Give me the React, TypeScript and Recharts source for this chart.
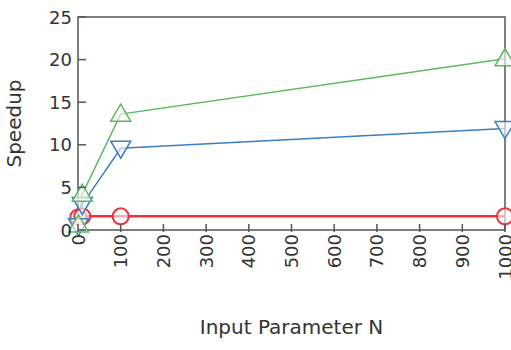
import { LineChart, Line, XAxis, YAxis, ReferenceArea } from "recharts"

const inputN = [1, 10, 100, 1000]
const speedupGreen = [0.6, 4.2, 13.6, 20.1]
const speedupBlue = [0.5, 3.0, 9.6, 11.9]
const speedupRed = [1.5, 1.6, 1.6, 1.6]
const xTicks = [0, 100, 200, 300, 400, 500, 600, 700, 800, 900, 1000]
const yTicks = [0, 5, 10, 15, 20, 25]

const data = inputN.map((n, i) => ({
    n,
    green: speedupGreen[i],
    blue: speedupBlue[i],
    red: speedupRed[i],
}))

const FONT = "'DejaVu Sans', sans-serif"
const AXIS = "#555"
const GREEN = "#5cb85c"
const BLUE = "#3a7fc0"
const RED = "#e8333a"

function TriUp(props: any) {
    const { cx, cy } = props
    if (cx == null || cy == null) return null
    const s = 10
    return <polygon points={`${cx},${cy - s} ${cx - s},${cy + s * 0.7} ${cx + s},${cy + s * 0.7}`} fill="#fff" fillOpacity={0.6} stroke={GREEN} strokeWidth={1.5} />
}

function TriDown(props: any) {
    const { cx, cy } = props
    if (cx == null || cy == null) return null
    const s = 10
    return <polygon points={`${cx},${cy + s} ${cx - s},${cy - s * 0.7} ${cx + s},${cy - s * 0.7}`} fill="#fff" fillOpacity={0.6} stroke={BLUE} strokeWidth={1.5} />
}

function Circ(props: any) {
    const { cx, cy } = props
    if (cx == null || cy == null) return null
    return <circle cx={cx} cy={cy} r={8} fill="#fff" fillOpacity={0.6} stroke={RED} strokeWidth={2} />
}

function BottomTick(props: any) {
    const { x, y, payload } = props
    return (
        <g>
            <line x1={x} y1={y - 2} x2={x} y2={y - 10} stroke={AXIS} strokeWidth={1.5} />
            <text x={x} y={y} transform={`rotate(-90 ${x} ${y})`} textAnchor="end" dominantBaseline="central" fontSize={18} fontFamily={FONT} fill="#333">
                {payload.value}
            </text>
        </g>
    )
}

function LeftTick(props: any) {
    const { x, y, payload } = props
    return (
        <g>
            <line x1={x + 6} x2={x + 14} y1={y} y2={y} stroke={AXIS} strokeWidth={1.5} />
            <text x={x} y={y} textAnchor="end" dominantBaseline="central" fontSize={18} fontFamily={FONT} fill="#333">
                {payload.value}
            </text>
        </g>
    )
}

function RightTick(props: any) {
    const { x, y } = props
    return <line x1={x - 2} x2={x - 10} y1={y} y2={y} stroke={AXIS} strokeWidth={1.5} />
}

export default function App() {
    return (
        <div style={{ position: "absolute", left: 0, top: 0, width: 511, height: 350, background: "#fff" }}>
            <LineChart width={511} height={350} data={data} margin={{ top: 17, right: 6, left: 0, bottom: 0 }}>
                <ReferenceArea x1={0} x2={1000} y1={0} y2={25} fill="none" stroke={AXIS} strokeWidth={1.5} ifOverflow="visible" />
                <XAxis
                    dataKey="n"
                    type="number"
                    domain={[0, 1000]}
                    ticks={xTicks}
                    interval={0}
                    height={120}
                    axisLine={false}
                    tickLine={false}
                    tickSize={0}
                    tickMargin={4}
                    tick={<BottomTick />}
                    label={{ value: "Input Parameter N", position: "insideBottom", offset: 16, fontSize: 20, fontFamily: FONT, fill: "#333" }}
                />
                <YAxis
                    domain={[0, 25]}
                    ticks={yTicks}
                    interval={0}
                    width={78}
                    axisLine={false}
                    tickLine={false}
                    tickSize={0}
                    tickMargin={6}
                    tick={<LeftTick />}
                    label={{ value: "Speedup", angle: -90, position: "insideLeft", offset: 14, fontSize: 20, fontFamily: FONT, fill: "#333", style: { textAnchor: "middle" } }}
                />
                <YAxis yAxisId="right" orientation="right" domain={[0, 25]} ticks={yTicks} width={0} axisLine={false} tickLine={false} tickSize={0} tickMargin={0} tick={<RightTick />} />
                <Line dataKey="red" stroke={RED} strokeWidth={2.5} dot={<Circ />} isAnimationActive={false} />
                <Line dataKey="blue" stroke={BLUE} strokeWidth={1.5} dot={<TriDown />} isAnimationActive={false} />
                <Line dataKey="green" stroke={GREEN} strokeWidth={1.5} dot={<TriUp />} isAnimationActive={false} />
            </LineChart>
        </div>
    )
}
